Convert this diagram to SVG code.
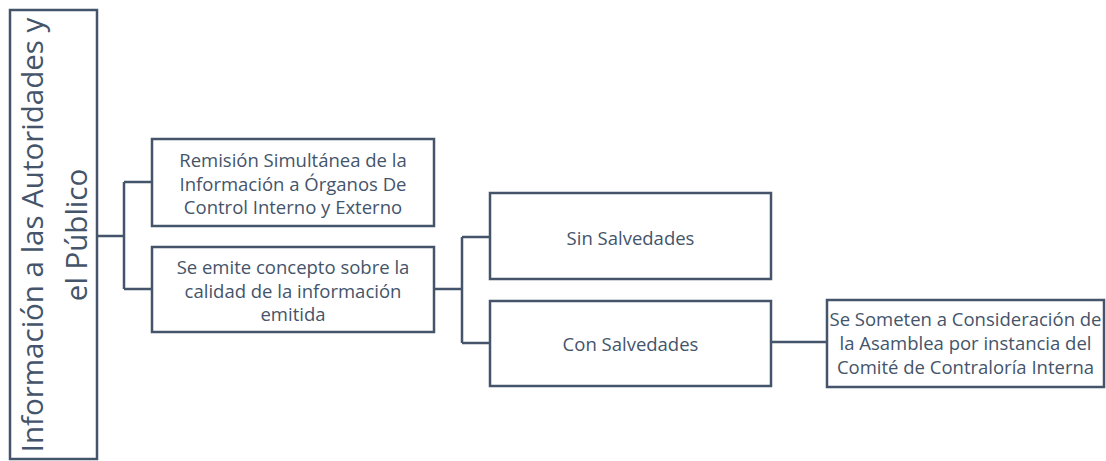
<svg xmlns="http://www.w3.org/2000/svg" width="1106" height="461" viewBox="0 0 1106 461">
<style>
.box{fill:#ffffff;stroke:#44546A;stroke-width:2.5}
.con{fill:none;stroke:#44546A;stroke-width:2.5}
.t{font-family:"Open Sans","Liberation Sans",sans-serif;font-size:18.5px;fill:#44546A;text-anchor:middle;dominant-baseline:central}
.rt{font-family:"Open Sans","Liberation Sans",sans-serif;font-size:29.5px;fill:#44546A;text-anchor:middle}
</style>
<rect width="1106" height="461" fill="#ffffff"/>
<g id="connectors">
<path class="con" d="M97 236 H124 M124 182 V289 M124 182 H152 M124 289 H152"/>
<path class="con" d="M434 289 H462 M462 237 V343 M462 237 H490 M462 343 H490"/>
<path class="con" d="M772 342 H827"/>
</g>
<g id="root">
<rect class="box" x="10" y="10" width="87" height="449"/>
<g transform="translate(0,235) rotate(-90)">
<text class="rt" x="0" y="43">Información a las Autoridades y</text>
<text class="rt" x="0" y="87">el Público</text>
</g>
</g>
<g id="n1">
<rect class="box" x="152" y="139" width="282" height="87"/>
<text class="t" x="293" y="159">Remisión Simultánea de la</text>
<text class="t" x="293" y="183">Información a Órganos De</text>
<text class="t" x="293" y="206">Control Interno y Externo</text>
</g>
<g id="n2">
<rect class="box" x="152" y="247" width="282" height="85"/>
<text class="t" x="293" y="266">Se emite concepto sobre la</text>
<text class="t" x="293" y="290">calidad de la información</text>
<text class="t" x="293" y="313">emitida</text>
</g>
<g id="n3">
<rect class="box" x="490" y="193" width="281" height="86"/>
<text class="t" x="630.5" y="237">Sin Salvedades</text>
</g>
<g id="n4">
<rect class="box" x="490" y="301" width="281" height="85"/>
<text class="t" x="630.5" y="343">Con Salvedades</text>
</g>
<g id="n5">
<rect class="box" x="827" y="300" width="277" height="87"/>
<text class="t" x="965.5" y="318">Se Someten a Consideración de</text>
<text class="t" x="965.5" y="342">la Asamblea por instancia del</text>
<text class="t" x="965.5" y="366">Comité de Contraloría Interna</text>
</g>
</svg>
